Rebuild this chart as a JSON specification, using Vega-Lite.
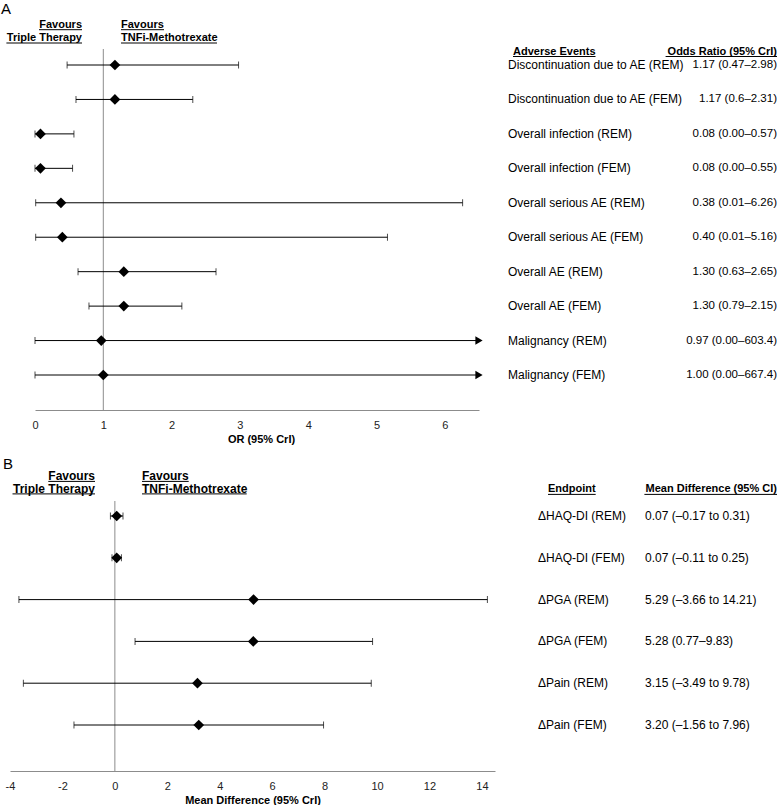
{
  "$schema": "https://vega.github.io/schema/vega-lite/v6.json",
  "padding": {"left": 1, "top": 2, "right": 0, "bottom": 0},
  "background": "white",
  "bounds": "flush",
  "spacing": 91,
  "config": {
    "font": "Liberation Sans",
    "view": {"stroke": null},
    "axis": {"labelFont": "Liberation Sans", "titleFont": "Liberation Sans"}
  },
  "datasets": {
    "ae": [
      {"label": "Discontinuation due to AE (REM)", "est": 1.17, "lo": 0.47, "hi": 2.98, "ci": "1.17 (0.47–2.98)"},
      {"label": "Discontinuation due to AE (FEM)", "est": 1.17, "lo": 0.6, "hi": 2.31, "ci": "1.17 (0.6–2.31)"},
      {"label": "Overall infection (REM)", "est": 0.08, "lo": 0.0, "hi": 0.57, "ci": "0.08 (0.00–0.57)"},
      {"label": "Overall infection (FEM)", "est": 0.08, "lo": 0.0, "hi": 0.55, "ci": "0.08 (0.00–0.55)"},
      {"label": "Overall serious AE (REM)", "est": 0.38, "lo": 0.01, "hi": 6.26, "ci": "0.38 (0.01–6.26)"},
      {"label": "Overall serious AE (FEM)", "est": 0.40, "lo": 0.01, "hi": 5.16, "ci": "0.40 (0.01–5.16)"},
      {"label": "Overall AE (REM)", "est": 1.30, "lo": 0.63, "hi": 2.65, "ci": "1.30 (0.63–2.65)"},
      {"label": "Overall AE (FEM)", "est": 1.30, "lo": 0.79, "hi": 2.15, "ci": "1.30 (0.79–2.15)"},
      {"label": "Malignancy (REM)", "est": 0.97, "lo": 0.0, "hi": 603.4, "ci": "0.97 (0.00–603.4)"},
      {"label": "Malignancy (FEM)", "est": 1.00, "lo": 0.0, "hi": 667.4, "ci": "1.00 (0.00–667.4)"}
    ],
    "md": [
      {"label": "ΔHAQ-DI (REM)", "est": 0.07, "lo": -0.17, "hi": 0.31, "ci": "0.07 (–0.17 to 0.31)"},
      {"label": "ΔHAQ-DI (FEM)", "est": 0.07, "lo": -0.11, "hi": 0.25, "ci": "0.07 (–0.11 to 0.25)"},
      {"label": "ΔPGA (REM)", "est": 5.29, "lo": -3.66, "hi": 14.21, "ci": "5.29 (–3.66 to 14.21)"},
      {"label": "ΔPGA (FEM)", "est": 5.28, "lo": 0.77, "hi": 9.83, "ci": "5.28 (0.77–9.83)"},
      {"label": "ΔPain (REM)", "est": 3.15, "lo": -3.49, "hi": 9.78, "ci": "3.15 (–3.49 to 9.78)"},
      {"label": "ΔPain (FEM)", "est": 3.20, "lo": -1.56, "hi": 7.96, "ci": "3.20 (–1.56 to 7.96)"}
    ]
  },
  "vconcat": [
    {
      "width": 470,
      "height": 361,
      "layer": [
        {
          "data": {"values": [{}]},
          "mark": {"type": "rule", "color": "#8c8c8c", "strokeWidth": 1},
          "encoding": {"x": {"datum": 1, "type": "quantitative"}}
        },
        {
          "data": {"name": "ae"},
          "mark": {"type": "rule", "color": "#000", "strokeWidth": 1},
          "encoding": {
            "y": {"field": "label", "type": "nominal", "sort": null, "scale": {"type": "point", "range": [16, 326], "padding": 0}, "axis": null},
            "x": {
              "field": "lo", "type": "quantitative",
              "scale": {"domain": [0, 6.5], "range": [25, 469], "clamp": true, "nice": false, "zero": false},
              "axis": {
                "values": [0, 1, 2, 3, 4, 5, 6], "labelExpr": "toString(datum.value)", "ticks": false, "tickSize": 0, "grid": false,
                "domainColor": "#8c8c8c", "domainWidth": 1, "labelFontSize": 11, "labelColor": "#222",
                "labelPadding": 9, "labelFlush": false, "labelAngle": 0,
                "title": "OR (95% CrI)", "titleFontSize": 11, "titleFontWeight": "bold", "titleColor": "#000",
                "titleX": 251, "titleY": 23, "titleAlign": "center", "titleBaseline": "top"
              }
            },
            "x2": {"field": "hi"}
          }
        },
        {
          "data": {"name": "ae"},
          "mark": {"type": "tick", "color": "#000", "size": 7, "thickness": 1},
          "encoding": {
            "y": {"field": "label", "type": "nominal", "sort": null},
            "x": {"field": "lo", "type": "quantitative"}
          }
        },
        {
          "data": {"name": "ae"},
          "transform": [{"filter": "datum.hi <= 6.5"}],
          "mark": {"type": "tick", "color": "#000", "size": 7, "thickness": 1},
          "encoding": {
            "y": {"field": "label", "type": "nominal", "sort": null},
            "x": {"field": "hi", "type": "quantitative"}
          }
        },
        {
          "data": {"name": "ae"},
          "transform": [{"filter": "datum.hi > 6.5"}],
          "mark": {"type": "point", "shape": "triangle-right", "filled": true, "color": "#000", "opacity": 1, "size": 70, "strokeWidth": 0},
          "encoding": {
            "y": {"field": "label", "type": "nominal", "sort": null},
            "x": {"field": "hi", "type": "quantitative"}
          }
        },
        {
          "data": {"name": "ae"},
          "mark": {"type": "point", "shape": "diamond", "filled": true, "color": "#000", "opacity": 1, "size": 115, "strokeWidth": 0},
          "encoding": {
            "y": {"field": "label", "type": "nominal", "sort": null},
            "x": {"field": "est", "type": "quantitative"}
          }
        },
        {
          "data": {"name": "ae"},
          "mark": {"type": "text", "align": "left", "baseline": "middle", "fontSize": 12, "color": "#000"},
          "encoding": {
            "y": {"field": "label", "type": "nominal", "sort": null},
            "x": {"value": 498},
            "text": {"field": "label"}
          }
        },
        {
          "data": {"name": "ae"},
          "mark": {"type": "text", "align": "right", "baseline": "middle", "fontSize": 11.5, "color": "#000"},
          "encoding": {
            "y": {"field": "label", "type": "nominal", "sort": null},
            "x": {"value": 767},
            "text": {"field": "ci"}
          }
        },
        {"data": {"values": [{}]}, "mark": {"type": "text", "text": "A", "x": -9, "y": -34.7, "align": "left", "baseline": "alphabetic", "fontSize": 15, "color": "#000"}, "encoding": {}},
        {"data": {"values": [{}]}, "mark": {"type": "text", "text": "Favours", "x": 72, "y": -24, "align": "right", "baseline": "middle", "fontSize": 11, "fontWeight": "bold", "color": "#000"}, "encoding": {}},
        {"data": {"values": [{}]}, "mark": {"type": "text", "text": "Triple Therapy", "x": 72, "y": -10.7, "align": "right", "baseline": "middle", "fontSize": 11, "fontWeight": "bold", "color": "#000"}, "encoding": {}},
        {"data": {"values": [{}]}, "mark": {"type": "text", "text": "Favours", "x": 111, "y": -24, "align": "left", "baseline": "middle", "fontSize": 11, "fontWeight": "bold", "color": "#000"}, "encoding": {}},
        {"data": {"values": [{}]}, "mark": {"type": "text", "text": "TNFi-Methotrexate", "x": 111, "y": -10.7, "align": "left", "baseline": "middle", "fontSize": 11, "fontWeight": "bold", "color": "#000"}, "encoding": {}},
        {"data": {"values": [{}]}, "mark": {"type": "rule", "color": "#000", "strokeWidth": 1}, "encoding": {"x": {"value": 29}, "x2": {"value": 72}, "y": {"value": -19.3}, "y2": {"value": -19.3}}},
        {"data": {"values": [{}]}, "mark": {"type": "rule", "color": "#000", "strokeWidth": 1}, "encoding": {"x": {"value": -3.6}, "x2": {"value": 72}, "y": {"value": -6}, "y2": {"value": -6}}},
        {"data": {"values": [{}]}, "mark": {"type": "rule", "color": "#000", "strokeWidth": 1}, "encoding": {"x": {"value": 111}, "x2": {"value": 154}, "y": {"value": -19.3}, "y2": {"value": -19.3}}},
        {"data": {"values": [{}]}, "mark": {"type": "rule", "color": "#000", "strokeWidth": 1}, "encoding": {"x": {"value": 111}, "x2": {"value": 207}, "y": {"value": -6}, "y2": {"value": -6}}},
        {"data": {"values": [{}]}, "mark": {"type": "text", "text": "Adverse Events", "x": 503, "y": 2.7, "align": "left", "baseline": "middle", "fontSize": 11, "fontWeight": "bold", "color": "#000"}, "encoding": {}},
        {"data": {"values": [{}]}, "mark": {"type": "text", "text": "Odds Ratio (95% CrI)", "x": 767, "y": 2.7, "align": "right", "baseline": "middle", "fontSize": 11, "fontWeight": "bold", "color": "#000"}, "encoding": {}},
        {"data": {"values": [{}]}, "mark": {"type": "rule", "color": "#000", "strokeWidth": 1}, "encoding": {"x": {"value": 503}, "x2": {"value": 585.5}, "y": {"value": 7.5}, "y2": {"value": 7.5}}},
        {"data": {"values": [{}]}, "mark": {"type": "rule", "color": "#000", "strokeWidth": 1}, "encoding": {"x": {"value": 655.6}, "x2": {"value": 767}, "y": {"value": 7.5}, "y2": {"value": 7.5}}}
      ]
    },
    {
      "width": 485,
      "height": 270,
      "layer": [
        {
          "data": {"values": [{}]},
          "mark": {"type": "rule", "color": "#8c8c8c", "strokeWidth": 1},
          "encoding": {"x": {"datum": 0, "type": "quantitative"}}
        },
        {
          "data": {"name": "md"},
          "mark": {"type": "rule", "color": "#000", "strokeWidth": 1},
          "encoding": {
            "y": {"field": "label", "type": "nominal", "sort": null, "scale": {"type": "point", "range": [15, 224], "padding": 0}, "axis": null},
            "x": {
              "field": "lo", "type": "quantitative",
              "scale": {"domain": [-4, 14.5], "range": [0, 485], "nice": false, "zero": false},
              "axis": {
                "values": [-4, -2, 0, 2, 4, 6, 8, 10, 12, 14], "labelExpr": "toString(datum.value)",
                "ticks": false, "tickSize": 0, "grid": false,
                "domainColor": "#8c8c8c", "domainWidth": 1, "labelFontSize": 11, "labelColor": "#222",
                "labelPadding": 9, "labelFlush": false, "labelAngle": 0,
                "title": "Mean Difference (95% CrI)", "titleFontSize": 11, "titleFontWeight": "bold", "titleColor": "#000", "titlePadding": 3
              }
            },
            "x2": {"field": "hi"}
          }
        },
        {
          "data": {"name": "md"},
          "mark": {"type": "tick", "color": "#000", "size": 7, "thickness": 1},
          "encoding": {
            "y": {"field": "label", "type": "nominal", "sort": null},
            "x": {"field": "lo", "type": "quantitative"}
          }
        },
        {
          "data": {"name": "md"},
          "mark": {"type": "tick", "color": "#000", "size": 7, "thickness": 1},
          "encoding": {
            "y": {"field": "label", "type": "nominal", "sort": null},
            "x": {"field": "hi", "type": "quantitative"}
          }
        },
        {
          "data": {"name": "md"},
          "mark": {"type": "point", "shape": "diamond", "filled": true, "color": "#000", "opacity": 1, "size": 115, "strokeWidth": 0},
          "encoding": {
            "y": {"field": "label", "type": "nominal", "sort": null},
            "x": {"field": "est", "type": "quantitative"}
          }
        },
        {
          "data": {"name": "md"},
          "mark": {"type": "text", "align": "left", "baseline": "middle", "fontSize": 12, "color": "#000"},
          "encoding": {
            "y": {"field": "label", "type": "nominal", "sort": null},
            "x": {"value": 528},
            "text": {"field": "label"}
          }
        },
        {
          "data": {"name": "md"},
          "mark": {"type": "text", "align": "left", "baseline": "middle", "fontSize": 12, "color": "#000"},
          "encoding": {
            "y": {"field": "label", "type": "nominal", "sort": null},
            "x": {"value": 635},
            "text": {"field": "ci"}
          }
        },
        {"data": {"values": [{}]}, "mark": {"type": "text", "text": "B", "x": -7, "y": -32, "align": "left", "baseline": "alphabetic", "fontSize": 15, "color": "#000"}, "encoding": {}},
        {"data": {"values": [{}]}, "mark": {"type": "text", "text": "Favours", "x": 85, "y": -25, "align": "right", "baseline": "middle", "fontSize": 12, "fontWeight": "bold", "color": "#000"}, "encoding": {}},
        {"data": {"values": [{}]}, "mark": {"type": "text", "text": "Triple Therapy", "x": 85, "y": -12.5, "align": "right", "baseline": "middle", "fontSize": 12, "fontWeight": "bold", "color": "#000"}, "encoding": {}},
        {"data": {"values": [{}]}, "mark": {"type": "text", "text": "Favours", "x": 132, "y": -25, "align": "left", "baseline": "middle", "fontSize": 12, "fontWeight": "bold", "color": "#000"}, "encoding": {}},
        {"data": {"values": [{}]}, "mark": {"type": "text", "text": "TNFi-Methotrexate", "x": 132, "y": -12.5, "align": "left", "baseline": "middle", "fontSize": 12, "fontWeight": "bold", "color": "#000"}, "encoding": {}},
        {"data": {"values": [{}]}, "mark": {"type": "rule", "color": "#000", "strokeWidth": 1}, "encoding": {"x": {"value": 38.3}, "x2": {"value": 85}, "y": {"value": -19.6}, "y2": {"value": -19.6}}},
        {"data": {"values": [{}]}, "mark": {"type": "rule", "color": "#000", "strokeWidth": 1}, "encoding": {"x": {"value": 2.5}, "x2": {"value": 85}, "y": {"value": -7.1}, "y2": {"value": -7.1}}},
        {"data": {"values": [{}]}, "mark": {"type": "rule", "color": "#000", "strokeWidth": 1}, "encoding": {"x": {"value": 132}, "x2": {"value": 178.7}, "y": {"value": -19.6}, "y2": {"value": -19.6}}},
        {"data": {"values": [{}]}, "mark": {"type": "rule", "color": "#000", "strokeWidth": 1}, "encoding": {"x": {"value": 132}, "x2": {"value": 236.7}, "y": {"value": -7.1}, "y2": {"value": -7.1}}},
        {"data": {"values": [{}]}, "mark": {"type": "text", "text": "Endpoint", "x": 538, "y": -11.7, "align": "left", "baseline": "middle", "fontSize": 11, "fontWeight": "bold", "color": "#000"}, "encoding": {}},
        {"data": {"values": [{}]}, "mark": {"type": "text", "text": "Mean Difference (95% CI)", "x": 767, "y": -11.7, "align": "right", "baseline": "middle", "fontSize": 11, "fontWeight": "bold", "color": "#000"}, "encoding": {}},
        {"data": {"values": [{}]}, "mark": {"type": "rule", "color": "#000", "strokeWidth": 1}, "encoding": {"x": {"value": 538}, "x2": {"value": 585.7}, "y": {"value": -6.6}, "y2": {"value": -6.6}}},
        {"data": {"values": [{}]}, "mark": {"type": "rule", "color": "#000", "strokeWidth": 1}, "encoding": {"x": {"value": 634.4}, "x2": {"value": 767}, "y": {"value": -6.6}, "y2": {"value": -6.6}}}
      ]
    }
  ]
}
